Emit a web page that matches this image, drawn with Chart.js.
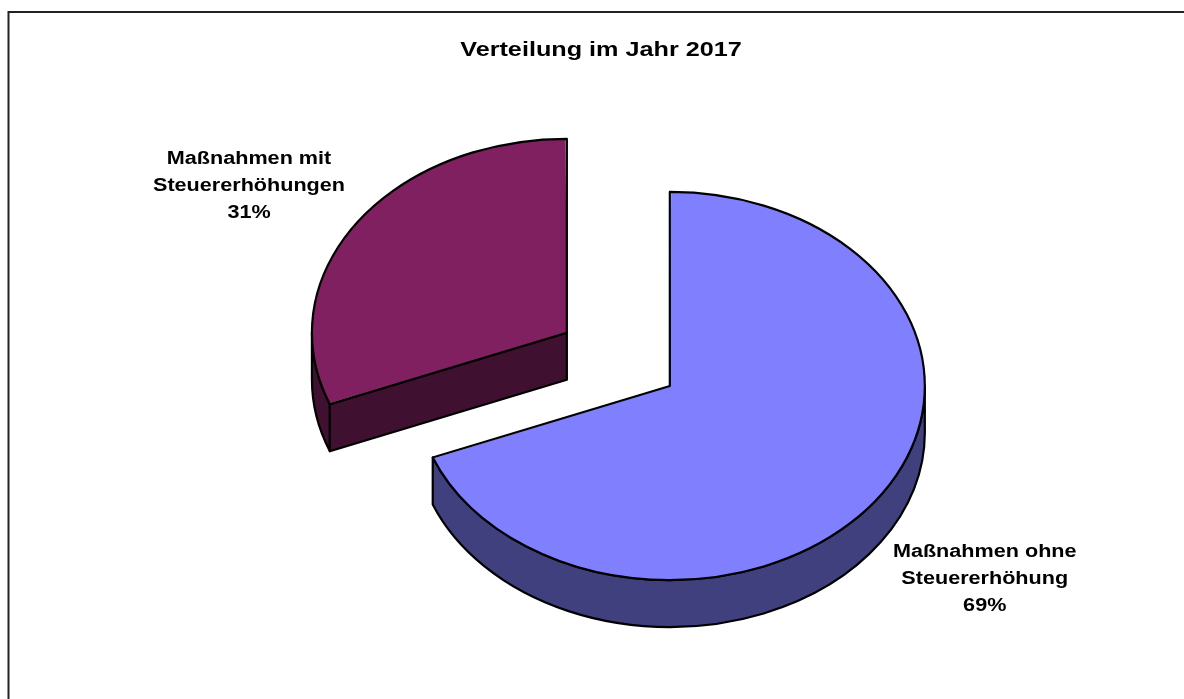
<!DOCTYPE html>
<html lang="de">
<head>
<meta charset="utf-8">
<title>Verteilung im Jahr 2017</title>
<script src="https://cdn.jsdelivr.net/npm/chart.js@4.4.1/dist/chart.umd.min.js"></script>
<style>
  html, body { margin: 0; padding: 0; background: #fff; }
  canvas { display: block; }
</style>
</head>
<body>
<canvas id="pieChart" width="1184" height="699"></canvas>
<script>
const chartTitle = "Verteilung im Jahr 2017";
const categories = [
  ["Maßnahmen ohne", "Steuererhöhung"],
  ["Maßnahmen mit", "Steuererhöhungen"]
];
const shares = [69, 31];

const topColors = ["#8080FF", "#802060"];
const sideColors = ["#40407F", "#401030"];
// chart.js moves a slice by offset/4 and grows big slices, so the values are uneven
const sliceOffsets = [33, 465];
const labelNudges = [[104, 62], [-107, -60]];

const tilt = 0.761;
const depth = 47;
const frame = { left: 8, top: 12, width: 1186, height: 700 };
const fontFamily = '"Liberation Sans", Arial, sans-serif';

function sliceGeometry(arc) {
  const o = (arc.options.offset || 0) / 4;
  const half = (arc.startAngle + arc.endAngle) / 2;
  const fix = 1 - Math.sin(Math.min(Math.PI, arc.circumference));
  return {
    x: arc.x + Math.cos(half) * o,
    y: arc.y + Math.sin(half) * o,
    r: arc.outerRadius + o * fix,
    start: arc.startAngle,
    end: arc.endAngle,
    half
  };
}

function tilted(ctx, cx, cy, build) {
  ctx.save();
  ctx.translate(cx, cy);
  ctx.scale(1, tilt);
  ctx.translate(-cx, -cy);
  ctx.beginPath();
  build();
  ctx.restore();
}

function stretchedText(ctx, text, x, y, size, stretch) {
  ctx.save();
  ctx.font = `bold ${size}px ${fontFamily}`;
  ctx.fillStyle = "#000";
  ctx.textAlign = "center";
  ctx.textBaseline = "alphabetic";
  ctx.translate(x, y);
  ctx.scale(stretch, 1);
  ctx.fillText(text, 0, 0);
  ctx.restore();
}

const framePlugin = {
  id: "frame",
  beforeDraw(chart) {
    const ctx = chart.ctx;
    ctx.save();
    ctx.fillStyle = "#fff";
    ctx.fillRect(0, 0, chart.width, chart.height);
    ctx.lineWidth = 2;
    ctx.strokeStyle = "#222";
    ctx.beginPath();
    ctx.moveTo(frame.left + 0.5, chart.height + 5);
    ctx.lineTo(frame.left + 0.5, frame.top);
    ctx.lineTo(chart.width + 5, frame.top);
    ctx.stroke();
    ctx.restore();
    stretchedText(ctx, chartTitle, frame.left + frame.width / 2, 56, 21, 1.2);
  }
};

const pie3dPlugin = {
  id: "pie3d",
  beforeDatasetsDraw(chart) {
    const ctx = chart.ctx;
    const meta = chart.getDatasetMeta(0);
    const cx = meta.data[0].x;
    const cy = meta.data[0].y;
    const d = depth / tilt;

    meta.data.forEach((arc, i) => {
      const g = sliceGeometry(arc);
      const faces = [];

      // curved wall, only the front half is visible
      for (let k = -1; k <= 1; k++) {
        const lo = Math.max(g.start, 2 * Math.PI * k);
        const hi = Math.min(g.end, 2 * Math.PI * k + Math.PI);
        if (hi > lo) {
          faces.push(() => {
            ctx.arc(g.x, g.y, g.r, lo, hi);
            ctx.lineTo(g.x + g.r * Math.cos(hi), g.y + g.r * Math.sin(hi) + d);
            ctx.arc(g.x, g.y + d, g.r, hi, lo, true);
            ctx.closePath();
          });
        }
      }

      // cut faces turned towards the viewer
      [[g.start, Math.cos(g.start) < -1e-6], [g.end, Math.cos(g.end) > 1e-6]].forEach(([a, show]) => {
        if (!show) return;
        faces.push(() => {
          ctx.moveTo(g.x, g.y);
          ctx.lineTo(g.x + g.r * Math.cos(a), g.y + g.r * Math.sin(a));
          ctx.lineTo(g.x + g.r * Math.cos(a), g.y + g.r * Math.sin(a) + d);
          ctx.lineTo(g.x, g.y + d);
          ctx.closePath();
        });
      });

      faces.forEach(build => {
        tilted(ctx, cx, cy, build);
        ctx.fillStyle = sideColors[i];
        ctx.fill();
        ctx.lineWidth = 2.2;
        ctx.lineJoin = "round";
        ctx.strokeStyle = "#000";
        ctx.stroke();
      });
    });

    ctx.save();
    ctx.translate(cx, cy);
    ctx.scale(1, tilt);
    ctx.translate(-cx, -cy);
  },
  afterDatasetsDraw(chart) {
    const ctx = chart.ctx;
    ctx.restore();

    const meta = chart.getDatasetMeta(0);
    const cx = meta.data[0].x;
    const cy = meta.data[0].y;

    meta.data.forEach((arc, i) => {
      const g = sliceGeometry(arc);
      tilted(ctx, cx, cy, () => {
        ctx.moveTo(g.x, g.y);
        ctx.arc(g.x, g.y, g.r, g.start, g.end);
        ctx.closePath();
      });
      ctx.lineWidth = 2.2;
      ctx.lineJoin = "round";
      ctx.strokeStyle = "#000";
      ctx.stroke();

      const rimX = g.x + g.r * Math.cos(g.half);
      const rimY = cy + (g.y + g.r * Math.sin(g.half) - cy) * tilt;
      const lx = rimX + labelNudges[i][0];
      const ly = rimY + labelNudges[i][1];
      const lines = [...categories[i], `${shares[i]}%`];
      lines.forEach((line, n) => {
        stretchedText(ctx, line, lx, ly + n * 27, 18, 1.2);
      });
    });
  }
};

new Chart(document.getElementById("pieChart"), {
  type: "pie",
  data: {
    labels: categories.map(c => c.join(" ")),
    datasets: [{
      data: shares,
      backgroundColor: topColors,
      borderWidth: 0,
      offset: sliceOffsets,
      hoverOffset: 0
    }]
  },
  options: {
    responsive: false,
    animation: false,
    devicePixelRatio: 1,
    radius: 246.75,
    events: [],
    layout: {
      padding: { left: 142, right: 0, top: 66, bottom: 0 }
    },
    plugins: {
      legend: { display: false },
      title: { display: false },
      tooltip: { enabled: false }
    }
  },
  plugins: [framePlugin, pie3dPlugin]
});
</script>
</body>
</html>
